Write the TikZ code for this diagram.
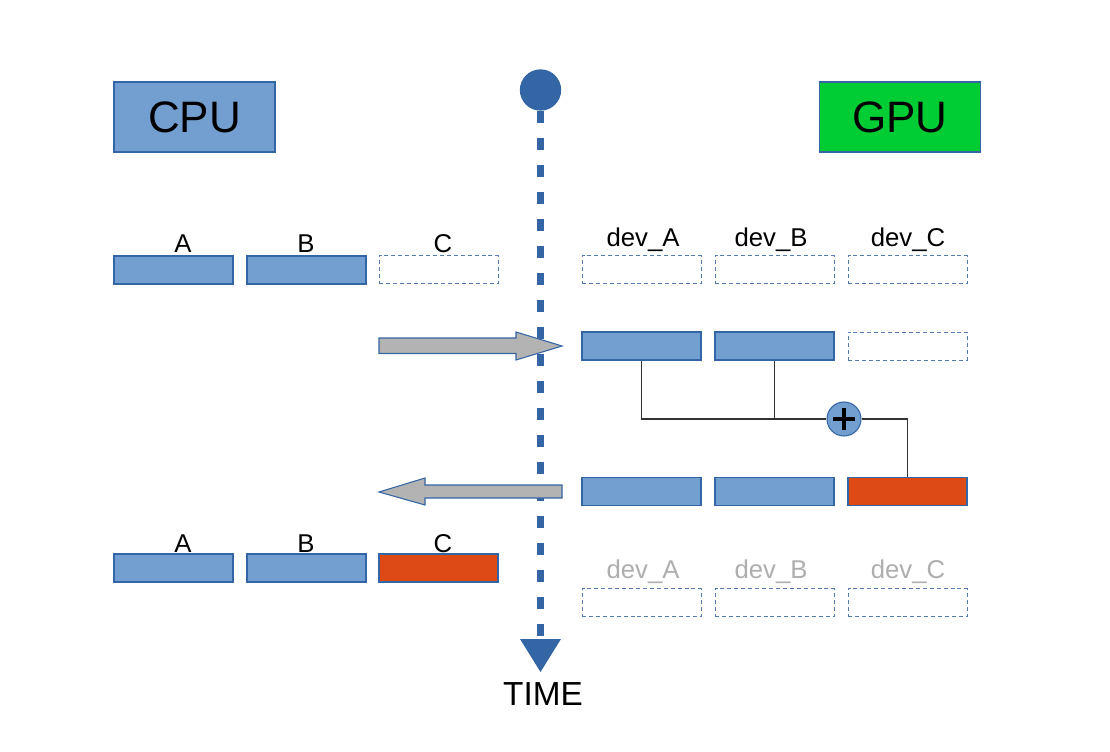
\documentclass[tikz,border=0pt]{standalone}
\usepackage{fontspec}
\setmainfont{Liberation Sans}
\begin{document}
\begin{tikzpicture}[x=0.75pt,y=-0.75pt,
  bar/.style={draw=edgeblue,fill=barblue,line width=0.8pt,minimum width=89.25pt,minimum height=21pt,inner sep=0pt},
  redbar/.style={bar,fill=redc},
  emptybar/.style={draw=edgeblue!85!white,line width=0.75pt,dash pattern=on 3pt off 2.2pt,minimum width=89.25pt,minimum height=21pt,inner sep=0pt},
  lbl/.style={anchor=base,inner sep=0pt,font=\fontsize{19.3}{22}\selectfont},
  glbl/.style={lbl,text=grayt},
  title/.style={draw=edgeblue,line width=0.8pt,minimum width=120.75pt,minimum height=52.5pt,inner sep=0pt,font=\fontsize{33}{36}\selectfont},
  link/.style={draw=linec,line width=0.8pt},
  bigarrow/.style={fill=arrowgray,draw=edgeblue,line width=0.8pt,line join=miter}
]
\definecolor{barblue}{HTML}{729FCF}
\definecolor{edgeblue}{HTML}{3465A4}
\definecolor{redc}{HTML}{DE4A16}
\definecolor{greenc}{HTML}{00CC33}
\definecolor{grayt}{HTML}{AEAEAE}
\definecolor{arrowgray}{HTML}{B3B3B3}
\definecolor{linec}{HTML}{333333}
\useasboundingbox (0,0) rectangle (1110,752);
\fill[white] (0,0) rectangle (1110,752);

% titles
\node[title,fill=barblue] (cpu) at (194.5,117) {CPU};
\node[title,fill=greenc] (gpu) at (900,117) {GPU};

% timeline
\node[circle,fill=edgeblue,minimum size=31pt,inner sep=0pt] (t0) at (540.5,90) {};
\coordinate (tend) at (540.5,640);
\draw[edgeblue,line width=5.25pt,dash pattern=on 9pt off 11.25pt] (t0.south) -- (tend);
\fill[edgeblue] (520,639) -- (561,639) -- (540.5,672) -- cycle;
\node[anchor=base,inner sep=0pt,font=\fontsize{25}{28}\selectfont] (time) at (543,705) {TIME};

% row 1
\node[bar] (a1) at (173.5,270) {};
\node[bar] (b1) at (306.5,270) {};
\node[emptybar] (c1) at (438.5,270) {};
\node[lbl] at (183,253) {A};
\node[lbl] at (306,253) {B};
\node[lbl] at (443,253) {C};
\node[emptybar] (ga1) at (641.5,270) {};
\node[emptybar] (gb1) at (774.5,270) {};
\node[emptybar] (gc1) at (907.5,270) {};
\node[lbl] at (643,247) {dev\_A};
\node[lbl] at (771,247) {dev\_B};
\node[lbl] at (908,247) {dev\_C};

% row 2
\draw[bigarrow] (379,338) -- (516,338) -- (516,332) -- (562,346) -- (516,360) -- (516,353.5) -- (379,353.5) -- cycle;
\node[bar] (ga2) at (641.5,346) {};
\node[bar] (gb2) at (774.5,346) {};
\node[emptybar] (gc2) at (907.5,346) {};

% sum
\node[circle,draw=edgeblue,fill=barblue,line width=0.8pt,minimum size=25.5pt,inner sep=0pt] (plus) at (844,419) {};
\draw[black,line width=2.4pt] ([xshift=-8pt]plus.center) -- ([xshift=8pt]plus.center);
\draw[black,line width=2.4pt] ([yshift=-8pt]plus.center) -- ([yshift=8pt]plus.center);

% row 3
\node[bar] (ga3) at (641.5,491.5) {};
\node[bar] (gb3) at (774.5,491.5) {};
\node[redbar] (gc3) at (907.5,491.5) {};
\draw[link] (ga2.south) -- (ga2.south |- plus.west) -- (plus.west);
\draw[link] (gb2.south) -- (gb2.south |- plus.west);
\draw[link] (plus.east) -| (gc3.north);
\draw[bigarrow] (562,485) -- (425,485) -- (425,478) -- (379,492) -- (425,505) -- (425,498) -- (562,498) -- cycle;

% row 4
\node[bar] (a4) at (173.5,568) {};
\node[bar] (b4) at (306.5,568) {};
\node[redbar] (c4) at (438.5,568) {};
\node[lbl] at (183,552) {A};
\node[lbl] at (306,552) {B};
\node[lbl] at (443,552) {C};
\node[emptybar] (ga4) at (641.5,602.5) {};
\node[emptybar] (gb4) at (774.5,602.5) {};
\node[emptybar] (gc4) at (907.5,602.5) {};
\node[glbl] at (643,578) {dev\_A};
\node[glbl] at (771,578) {dev\_B};
\node[glbl] at (908,578) {dev\_C};
\end{tikzpicture}
\end{document}
